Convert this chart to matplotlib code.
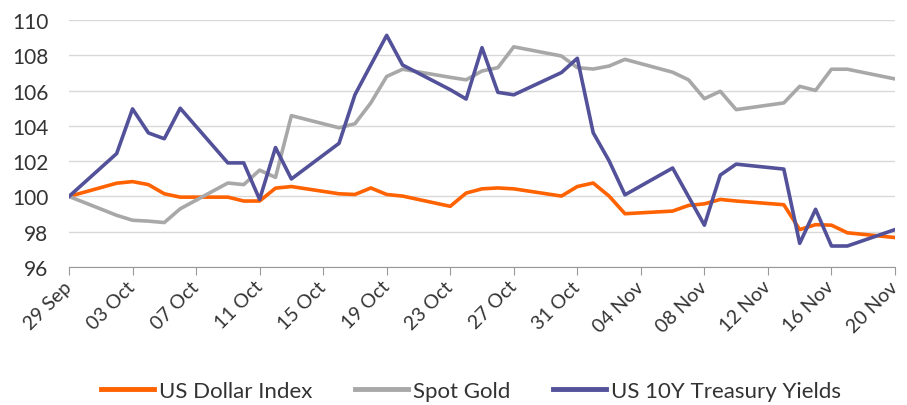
import matplotlib
matplotlib.use("Agg")
import matplotlib.pyplot as plt
import matplotlib.transforms as mtransforms
import pandas as pd

# trading days, 29 Sep - 20 Nov
dates = pd.bdate_range("2023-09-29", "2023-11-20")

usd_index = [
    100.0, 100.75, 100.84, 100.67, 100.15, 99.96,
    99.96, 99.74, 99.74, 100.47, 100.56,
    100.15, 100.11, 100.48, 100.11, 100.02,
    99.44, 100.19, 100.43, 100.48, 100.43,
    100.02, 100.56, 100.76, 100.02, 99.02,
    99.17, 99.49, 99.58, 99.83, 99.74,
    99.53, 98.12, 98.40, 98.37, 97.94,
    97.67,
]
spot_gold = [
    100.0, 98.93, 98.65, 98.60, 98.52, 99.30,
    100.76, 100.67, 101.49, 101.08, 104.58,
    103.89, 104.12, 105.30, 106.80, 107.21,
    106.75, 106.61, 107.11, 107.30, 108.48,
    107.96, 107.30, 107.22, 107.39, 107.77,
    107.04, 106.61, 105.54, 105.96, 104.92,
    105.30, 106.24, 106.01, 107.21, 107.21,
    106.66,
]
us10y = [
    100.0, 102.43, 104.96, 103.60, 103.27, 105.00,
    101.90, 101.90, 99.83, 102.77, 100.99,
    103.01, 105.76, 107.45, 109.13, 107.45,
    106.05, 105.52, 108.43, 105.90, 105.76,
    107.02, 107.83, 103.61, 102.02, 100.09,
    101.61, 99.99, 98.37, 101.21, 101.83,
    101.55, 97.34, 99.27, 97.19, 97.19,
    98.12,
]

series = [
    ("US Dollar Index", usd_index, "#ff6200"),
    ("Spot Gold", spot_gold, "#a8a8a8"),
    ("US 10Y Treasury Yields", us10y, "#525199"),
]

plt.rcParams["font.family"] = ["Lato", "DejaVu Sans"]

fig = plt.figure(figsize=(9.07, 4.06), dpi=100)
ax = fig.add_axes([69 / 907, 1 - 268 / 406, 826 / 907, 247 / 406])

handles = []
for label, values, color in series:
    (ln,) = ax.plot(dates, values, color=color, lw=2.6, label=label)
    handles.append(ln)

start, end = pd.Timestamp("2023-09-29"), pd.Timestamp("2023-11-20")
ax.set_xlim(start, end)
ax.set_ylim(96, 110)
ax.set_yticks(range(96, 111, 2))

xticks = pd.date_range(start, end, freq="4D")
ax.set_xticks(xticks)
ax.set_xticklabels([d.strftime("%d %b") for d in xticks], rotation=45,
                   ha="right", va="center", rotation_mode="anchor")
# nudge labels a little right so they sit like the original
shift = mtransforms.ScaledTranslation(6 / 100, 0, fig.dpi_scale_trans)
for lbl in ax.get_xticklabels():
    lbl.set_transform(lbl.get_transform() + shift)

ax.grid(axis="y", color="#d9d9d9", lw=1)
ax.set_axisbelow(True)
for side in ["left", "right", "top"]:
    ax.spines[side].set_visible(False)
ax.spines["bottom"].set_color("#999999")
ax.tick_params(axis="y", length=0, labelsize=15, labelcolor="#333333", pad=15)
ax.tick_params(axis="x", length=6, color="#999999", labelsize=14,
               labelcolor="#333333", pad=6)

leg = fig.legend(handles=handles, loc="center", bbox_to_anchor=(471 / 907, 1 - 392 / 406),
                 ncol=3, frameon=False, fontsize=16, handlelength=2.4,
                 handletextpad=0.22, columnspacing=1.9, labelcolor="#333333")
for h in leg.get_lines():
    h.set_linewidth(3.5)

fig.savefig("out.png", dpi=100)
